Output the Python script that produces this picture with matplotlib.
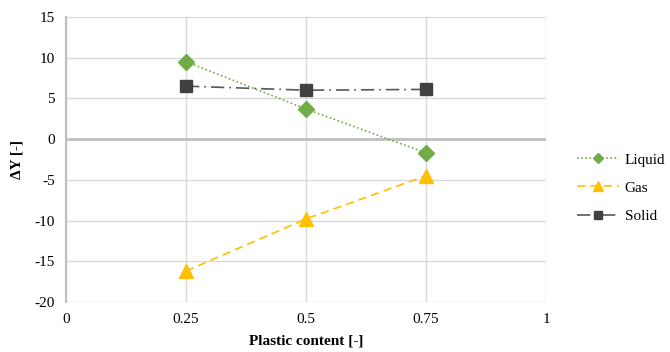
import matplotlib
matplotlib.use("Agg")
import matplotlib.pyplot as plt

plt.rcParams['font.family'] = ['Liberation Serif', 'DejaVu Serif']
plt.rcParams['axes.unicode_minus'] = False

x = [0.25, 0.5, 0.75]
liquid = [9.5, 3.7, -1.7]
gas = [-16.2, -9.8, -4.5]
solid = [6.5, 6.0, 6.1]

xticks = [0, 0.25, 0.5, 0.75, 1]
xticklabels = ["0", "0.25", "0.5", "0.75", "1"]
yticks = list(range(-20, 16, 5))

fig = plt.figure(figsize=(6.7, 3.52), dpi=100)
ax = fig.add_axes([0.0985, 0.142, 0.7165, 0.81])

ax.plot(x, liquid, color='#70ad47', linestyle=(0, (1, 1.5)), linewidth=1.2,
        marker='D', markersize=8, label='Liquid', zorder=3)
ax.plot(x, gas, color='#ffc000', linestyle=(0, (5, 3)), linewidth=1.2,
        marker='^', markersize=10, label='Gas', zorder=3)
ax.plot(x, solid, color='#595959', linestyle=(0, (8, 3, 1, 3)), linewidth=1.2,
        marker='s', markersize=8, markerfacecolor='#404040', markeredgecolor='#404040',
        label='Solid', zorder=3)

ax.set_xlim(0, 1)
ax.set_ylim(-20, 15)
ax.set_xticks(xticks)
ax.set_xticklabels(xticklabels)
ax.set_yticks(yticks)
ax.grid(color='#d9d9d9', linewidth=1)
ax.axhline(0, color='#bfbfbf', linewidth=2, zorder=2)
for s in ['top', 'right', 'bottom']:
    ax.spines[s].set_visible(False)
ax.spines['left'].set_color('#bfbfbf')
ax.spines['left'].set_linewidth(1.5)
ax.tick_params(length=0, labelsize=11, pad=8)

ax.set_xlabel('Plastic content [-]', fontsize=11, fontweight='bold', labelpad=6)
ax.set_ylabel('ΔY [-]', fontsize=11, fontweight='bold', labelpad=8)

leg = ax.legend(loc='center left', bbox_to_anchor=(1.035, 0.40), frameon=False,
                fontsize=11, handlelength=2.8, handletextpad=0.35,
                labelspacing=0.95, markerscale=0.7)

fig.savefig('out.png', dpi=100)
